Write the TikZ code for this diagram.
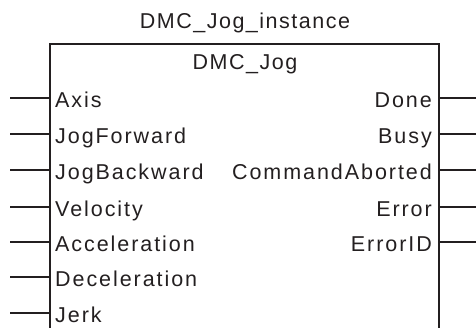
\documentclass[tikz,border=0pt]{standalone}
\usepackage{fontspec}
\setmainfont[LetterSpace=9]{Liberation Sans}
\newfontfamily\titlefont[LetterSpace=7]{Liberation Sans}
\definecolor{ink}{HTML}{231F20}
\begin{document}
\begin{tikzpicture}[x=1pt,y=-1pt,
  lbl/.style={inner sep=0pt,font=\fontsize{21.5}{24}\selectfont,text=ink},
  ttl/.style={inner sep=0pt,font=\titlefont\fontsize{21.5}{24}\selectfont,text=ink},
  pin/.style={line width=1.4pt,draw=ink},
  edge/.style={line width=1.6pt,draw=ink}]
\useasboundingbox (0,0) rectangle (476,327);
% box
\coordinate (bl) at (50,330);
\coordinate (tl) at (50,44);
\coordinate (tr) at (439,44);
\coordinate (br) at (439,330);
\draw[edge] (bl) -- (tl) -- (tr) -- (br);
\node[ttl,anchor=base] (inst) at (245,28) {DMC\_Jog\_instance};
\node[ttl,anchor=base] (fb) at (245,69) {DMC\_Jog};
% inputs
\foreach \n/\t/\y in {i1/Axis/98,i2/JogForward/134,i3/JogBackward/170,i4/Velocity/207,i5/Acceleration/242,i6/Deceleration/277,i7/Jerk/313}{
  \coordinate (\n p) at (50,\y);
  \coordinate (\n s) at (10,\y);
  \node[lbl,anchor=base west] (\n) at (55,\y+9) {\t};
  \draw[pin] (\n s) -- (\n p);
}
% outputs
\foreach \n/\t/\y in {o1/Done/98,o2/Busy/134,o3/CommandAborted/170,o4/Error/207,o5/ErrorID/242}{
  \coordinate (\n p) at (439,\y);
  \coordinate (\n e) at (476,\y);
  \node[lbl,anchor=base east] (\n) at (432,\y+9) {\t};
  \draw[pin] (\n p) -- (\n e);
}
\end{tikzpicture}
\end{document}
